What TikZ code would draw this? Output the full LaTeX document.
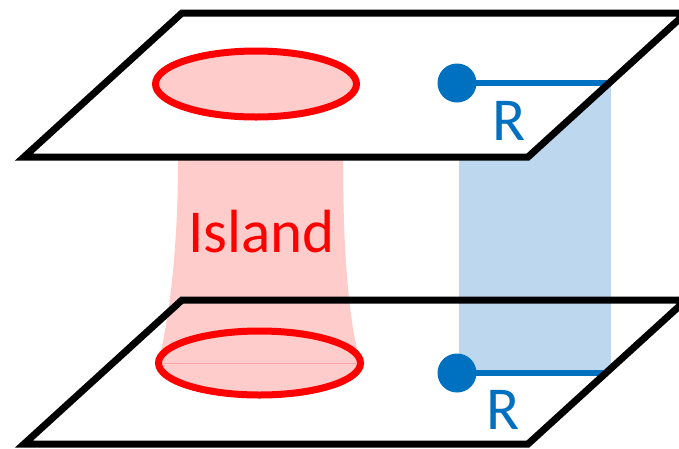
\documentclass[tikz,border=0pt]{standalone}
\usepackage{fontspec}
\setmainfont{Carlito}
\definecolor{oblue}{HTML}{0070C0}
\definecolor{lblue}{HTML}{BDD7EE}
\definecolor{lpink}{HTML}{FFCCCC}
\begin{document}
\begin{tikzpicture}[x=1pt,y=-1pt,
  planeline/.style={draw=black,line width=7pt,line join=miter},
  ring/.style={draw=red,line width=7pt,fill=lpink},
  rline/.style={draw=oblue,line width=6.5pt},
  rdot/.style={circle,fill=oblue,minimum size=39pt,inner sep=0pt},
  lbl/.style={font=\fontsize{61}{61}\selectfont,inner sep=0pt,anchor=base}]
\useasboundingbox (0,0) rectangle (679,448);
% bottom plane
\coordinate (bBL) at (24,444);
\coordinate (bBR) at (528,444);
\coordinate (bTR) at (686,300);
\coordinate (bTL) at (182,300);
\fill[white] (bBL)--(bBR)--(bTR)--(bTL)--cycle;
% island funnel
\fill[lpink] (158,363) .. controls (167,330) and (178,260) .. (178,160) -- (178,84)
  -- (343,84) -- (343,160) .. controls (343,260) and (350,330) .. (361,363) -- cycle;
% blue band
\fill[lblue] (459,83) rectangle (611,373);
% bottom ellipse
\draw[ring] (259.5,363) ellipse [x radius=101, y radius=32];
\draw[red!35,line width=0.8pt] (163,363) -- (356,363);
% bottom radius
\node[rdot] (dB) at (457,373) {};
\coordinate (eB) at (608,373);
\draw[rline] (dB.center) -- (eB);
\draw[planeline] (bBL)--(bBR)--(bTR)--(bTL)--cycle;
\node[lbl,text=oblue] (rB) at (503,429) {R};
% top plane
\coordinate (tBL) at (24,157);
\coordinate (tBR) at (528,157);
\coordinate (tTR) at (686,13);
\coordinate (tTL) at (182,13);
\fill[white] (tBL)--(tBR)--(tTR)--(tTL)--cycle;
\draw[ring] (256,84) ellipse [x radius=100.5, y radius=33];
\node[rdot] (dT) at (457,83) {};
\coordinate (eT) at (609,83);
\draw[rline] (dT.center) -- (eT);
\draw[planeline] (tBL)--(tBR)--(tTR)--(tTL)--cycle;
\node[lbl,text=oblue] (rT) at (509,140) {R};
% label
\node[lbl,text=red] (isl) at (261.5,252) {Island};
\end{tikzpicture}
\end{document}
